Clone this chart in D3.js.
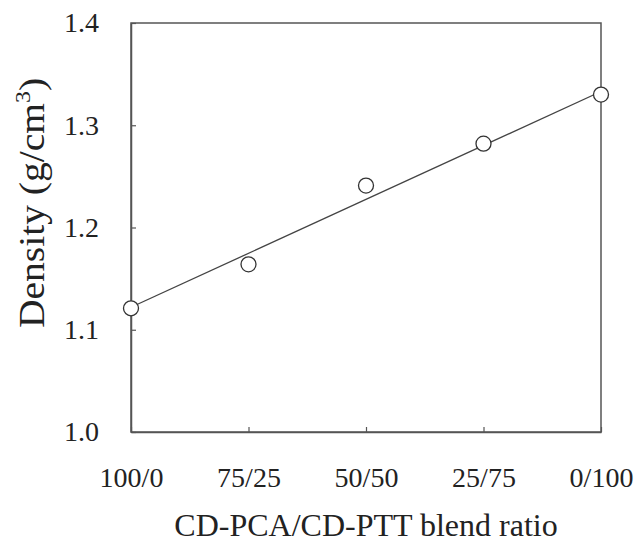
<!DOCTYPE html>
<html>
<head>
<meta charset="utf-8">
<script src="https://cdn.jsdelivr.net/npm/d3@7"></script>
<style>
  body { margin: 0; background: #fff; }
  text { font-family: "Liberation Serif", "Times New Roman", serif; fill: #222; }
</style>
</head>
<body>
<div id="viz"></div>
<script>
var width = 635,
    height = 543;

// Data
var ratios = ["100/0", "75/25", "50/50", "25/75", "0/100"];
var density = [1.121, 1.164, 1.241, 1.282, 1.330];
// end points of the straight fit line drawn in the figure
var fitEnds = [1.122, 1.333];
var yTicks = [1.0, 1.1, 1.2, 1.3, 1.4];

var margin = {left: 131, right: 34, top: 23, bottom: 111};

var svg = d3.select("div#viz")
    .append("svg")
    .attr("width", width)
    .attr("height", height);

var x = d3.scalePoint()
    .domain(ratios)
    .range([margin.left, width - margin.right])
    .padding(0);

var y = d3.scaleLinear()
    .domain([1.0, 1.4])
    .range([height - margin.bottom, margin.top]);

var axisColor = "#555";

// frame
svg.append("rect")
    .attr("x", margin.left)
    .attr("y", margin.top)
    .attr("width", width - margin.right - margin.left)
    .attr("height", height - margin.bottom - margin.top)
    .attr("fill", "none")
    .attr("stroke", axisColor)
    .attr("stroke-width", 1.5);

var xAxis = svg.append("g")
    .attr("transform", "translate(0," + (height - margin.bottom) + ")")
    .call(d3.axisBottom(x).tickSizeInner(-5).tickSizeOuter(0).tickPadding(35));

var yAxis = svg.append("g")
    .attr("transform", "translate(" + margin.left + ",0)")
    .call(d3.axisLeft(y).tickValues(yTicks).tickFormat(d3.format(".1f"))
        .tickSizeInner(-5).tickSizeOuter(0).tickPadding(32));

[xAxis, yAxis].forEach(function(g) {
    g.select(".domain").attr("stroke", axisColor).attr("stroke-width", 1.5);
    g.selectAll(".tick line").attr("stroke", axisColor).attr("stroke-width", 1.2);
    g.selectAll(".tick text")
        .style("font-family", "'Liberation Serif', serif")
        .style("font-size", "28px")
        .attr("fill", "#222");
});

// fit line
svg.append("line")
    .attr("x1", x(ratios[0]))
    .attr("y1", y(fitEnds[0]))
    .attr("x2", x(ratios[ratios.length - 1]))
    .attr("y2", y(fitEnds[1]))
    .attr("stroke", "#444")
    .attr("stroke-width", 1.3);

// data points
svg.append("g")
    .selectAll("circle")
    .data(ratios)
    .enter().append("circle")
    .attr("cx", function(d) { return x(d); })
    .attr("cy", function(d, i) { return y(density[i]); })
    .attr("r", 7.5)
    .attr("fill", "#fff")
    .attr("stroke", "#333")
    .attr("stroke-width", 1.3);

// axis titles
svg.append("text")
    .attr("x", (margin.left + width - margin.right) / 2)
    .attr("y", 536)
    .attr("text-anchor", "middle")
    .style("font-size", "32px")
    .text("CD-PCA/CD-PTT blend ratio");

// the y title in the figure is a little stretched along its length
var yTitle = svg.append("text")
    .attr("transform", "translate(44,203) rotate(-90) scale(1.13,1)")
    .attr("text-anchor", "middle")
    .style("font-size", "35px");
yTitle.append("tspan").text("Density (g/cm");
yTitle.append("tspan").attr("dy", -14).style("font-size", "21px").text("3");
yTitle.append("tspan").attr("dy", 14).text(")");
</script>
</body>
</html>
